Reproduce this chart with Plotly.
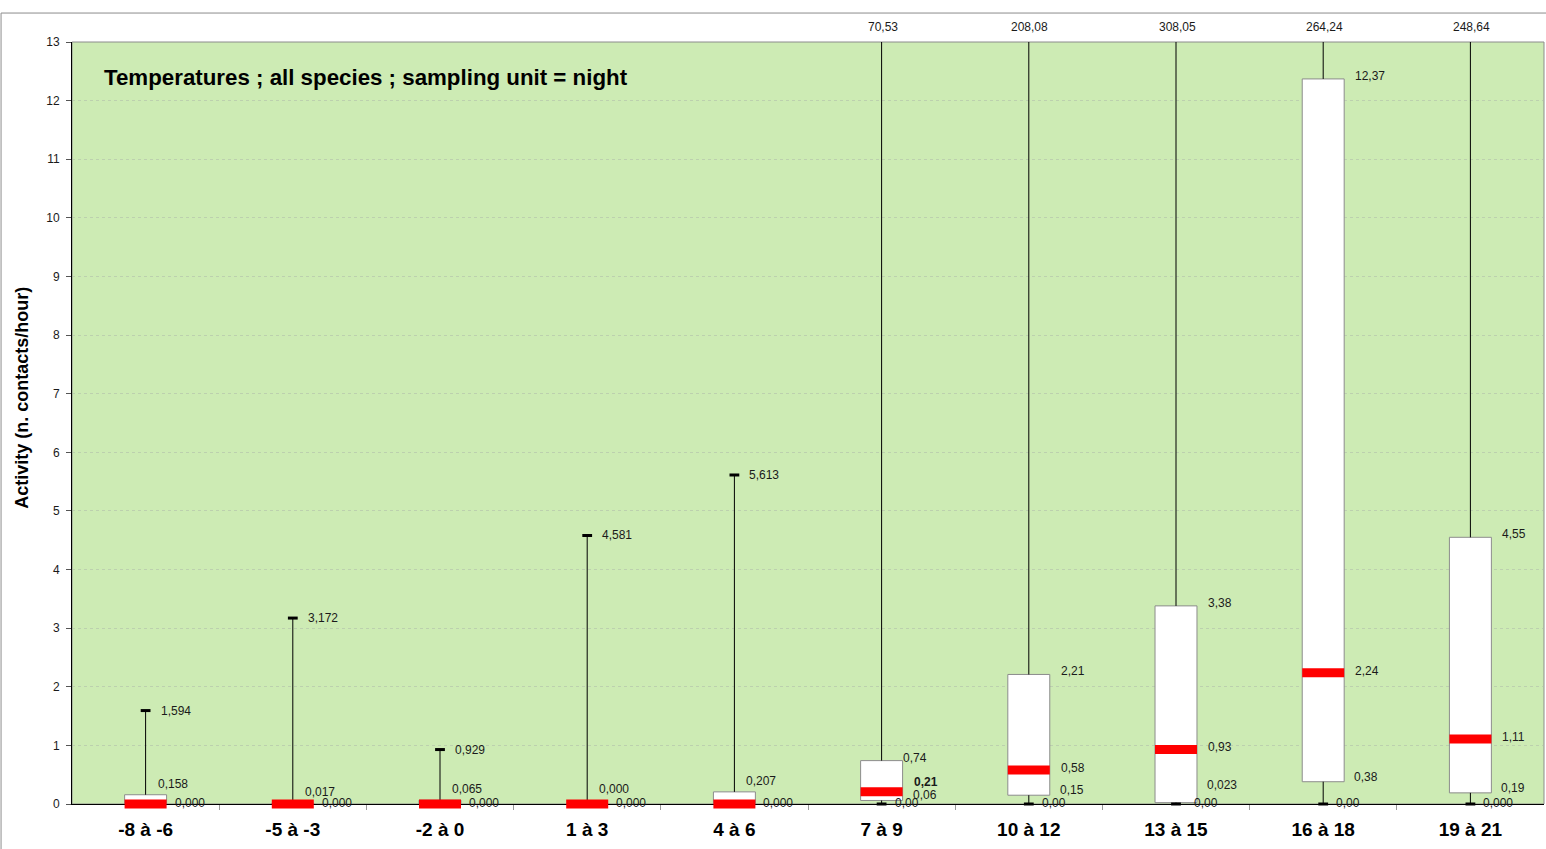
import plotly.graph_objects as go

# Temperature classes (°C) and activity summaries per class
categories = ["-8 à -6", "-5 à -3", "-2 à 0", "1 à 3", "4 à 6",
              "7 à 9", "10 à 12", "13 à 15", "16 à 18", "19 à 21"]
minimum = [0.000, 0.000, 0.000, 0.000, 0.000, 0.00, 0.00, 0.00, 0.00, 0.000]
q1 = [0.000, 0.000, 0.000, 0.000, 0.000, 0.06, 0.15, 0.023, 0.38, 0.19]
median = [0.000, 0.000, 0.000, 0.000, 0.000, 0.21, 0.58, 0.93, 2.24, 1.11]
q3 = [0.158, 0.017, 0.065, 0.000, 0.207, 0.74, 2.21, 3.38, 12.37, 4.55]
maximum = [1.594, 3.172, 0.929, 4.581, 5.613, 70.53, 208.08, 308.05, 264.24, 248.64]
decimals = [3, 3, 3, 3, 3, 2, 2, 2, 2, 2]
min_decimals = [3, 3, 3, 3, 3, 2, 2, 2, 2, 3]
y_ticks = list(range(0, 14))

Y_TOP = 13
BOX_W = 0.285
BOX_PX = 42            # box width in pixels (plotly line-ew length = 1.4 * size)
FONT = "Liberation Sans, Arial, Helvetica, sans-serif"
LABEL_COLOR = "#1a1a1a"

# per-class label tweaks (bold median, extra lift for crowded labels)
label_tweaks = {
    3: dict(q3_dy=4),
    5: dict(median_bold=True, median_dy=8, q3_dx=-11),
    7: dict(q1_dy=13, min_dx=5),
}


def fmt(v, d):
    while round(v, d) != v and d < 4:
        d += 1
    return f"{v:.{d}f}".replace(".", ",")


idx = list(range(len(categories)))

fig = go.Figure()

# whiskers: min -> Q1 and Q3 -> max (upper part clipped at the plot top)
wx, wy = [], []
for i in idx:
    if q1[i] > minimum[i]:
        wx += [i, i, None]
        wy += [minimum[i], q1[i], None]
    wx += [i, i, None]
    wy += [q3[i], maximum[i], None]
fig.add_trace(go.Scatter(x=wx, y=wy, mode="lines",
                         line=dict(color="black", width=1),
                         hoverinfo="skip", showlegend=False))

# interquartile boxes
fig.add_trace(go.Bar(x=idx, y=[q3[i] - q1[i] for i in idx], base=q1,
                     width=BOX_W,
                     marker=dict(color="white", line=dict(color="#8c8c8c", width=1)),
                     hoverinfo="skip", showlegend=False))

# whisker end caps (only where the end is inside the plot)
cx, cy = [], []
for i in idx:
    cx.append(i); cy.append(minimum[i])
    if maximum[i] <= Y_TOP:
        cx.append(i); cy.append(maximum[i])
fig.add_trace(go.Scatter(x=cx, y=cy, mode="markers", cliponaxis=False,
                         marker=dict(symbol="line-ew", size=7,
                                     line=dict(color="black", width=3)),
                         hoverinfo="skip", showlegend=False))

# medians
fig.add_trace(go.Scatter(x=idx, y=median, mode="markers", cliponaxis=False,
                         marker=dict(symbol="line-ew", size=BOX_PX / 1.4,
                                     line=dict(color="#ff0000", width=9)),
                         hoverinfo="skip", showlegend=False))

annotations = []


def lab(x, y, text, dx, dy, bold=False, anchor="left"):
    annotations.append(dict(
        x=x, y=y, xref="x", yref="y", text=f"<b>{text}</b>" if bold else text,
        showarrow=False, xanchor=anchor, yanchor="middle", xshift=dx, yshift=dy,
        font=dict(family=FONT, size=12, color=LABEL_COLOR)))


for i in idx:
    tw = label_tweaks.get(i, {})
    d = decimals[i]
    # maximum
    if maximum[i] <= Y_TOP:
        lab(i, maximum[i], fmt(maximum[i], d), 13, 0)
    else:
        lab(i, Y_TOP, fmt(maximum[i], d), 1, 15, anchor="center")
    small = q1[i] == minimum[i]
    # minimum
    lab(i, minimum[i], fmt(minimum[i], min_decimals[i]),
        (27 if small else 11) + tw.get("min_dx", 0), 1)
    if small:
        lab(i, q3[i], fmt(q3[i], d), 10, 11 + tw.get("q3_dy", 0))
    else:
        lab(i, q3[i], fmt(q3[i], d), 30 + tw.get("q3_dx", 0), 3)
        lab(i, median[i], fmt(median[i], d), 30, 2 + tw.get("median_dy", 0),
            bold=tw.get("median_bold", False))
        lab(i, q1[i], fmt(q1[i], d), 29, 5 + tw.get("q1_dy", 0))

# chart title inside the plot area
annotations.append(dict(
    x=0.0205, y=0.953, xref="paper", yref="paper", xanchor="left", yanchor="middle",
    showarrow=False, text="<b>Temperatures ; all species ; sampling unit = night</b>",
    font=dict(family=FONT, size=22.3, color="black")))

# y-axis title, at a fixed pixel offset left of the plot
annotations.append(dict(
    x=(22 - 72) / 1472, y=0.533, xref="paper", yref="paper",
    xanchor="center", yanchor="middle",
    showarrow=False, textangle=-90, text="<b>Activity (n. contacts/hour)</b>",
    font=dict(family=FONT, size=18, color="black")))

shapes = [
    # plot area frame
    dict(type="rect", xref="paper", yref="paper", x0=0, x1=1, y0=0, y1=1,
         line=dict(color="#8c8c8c", width=1), layer="below"),
    # outer chart frame (top and left edges)
    dict(type="line", xref="paper", yref="paper", x0=-0.0482, x1=1.01,
         y0=1.038, y1=1.038, line=dict(color="#8c8c8c", width=1)),
    dict(type="line", xref="paper", yref="paper", x0=-0.0482, x1=-0.0482,
         y0=1.038, y1=-0.07, line=dict(color="#8c8c8c", width=1)),
]

fig.update_layout(
    width=1546, height=849,
    margin=dict(l=72, r=2, t=42, b=45),
    paper_bgcolor="white",
    plot_bgcolor="#cdebb4",
    barmode="overlay",
    showlegend=False,
    annotations=annotations,
    shapes=shapes,
    font=dict(family=FONT, color="black"),
    xaxis=dict(
        range=[-0.5, len(categories) - 0.5],
        tickmode="array", tickvals=idx, ticktext=categories,
        ticks="outside", ticklen=5, tickcolor="rgba(0,0,0,0)",
        showgrid=False, zeroline=False,
        tickfont=dict(family=FONT, size=19, color="black", weight="bold"),
        ticklabelstandoff=3,
        showline=True, linecolor="black", linewidth=1,
        layer="below traces",
        minor=dict(tickmode="array", tickvals=[i + 0.5 for i in idx[:-1]],
                   ticks="outside", ticklen=5, tickcolor="#9a9a9a", tickwidth=1),
        fixedrange=True,
    ),
    yaxis=dict(
        range=[0, Y_TOP], tickmode="array", tickvals=y_ticks,
        ticks="outside", ticklen=5, tickcolor="#555555",
        tickfont=dict(family=FONT, size=12, color="#1a1a1a"),
        ticklabelstandoff=4,
        showgrid=True, gridcolor="rgba(175,185,170,0.55)", griddash="dot", gridwidth=1,
        zeroline=False, showline=True, linecolor="black", linewidth=1,
        layer="below traces",
        fixedrange=True,
    ),
)

fig.write_html("out.html")
